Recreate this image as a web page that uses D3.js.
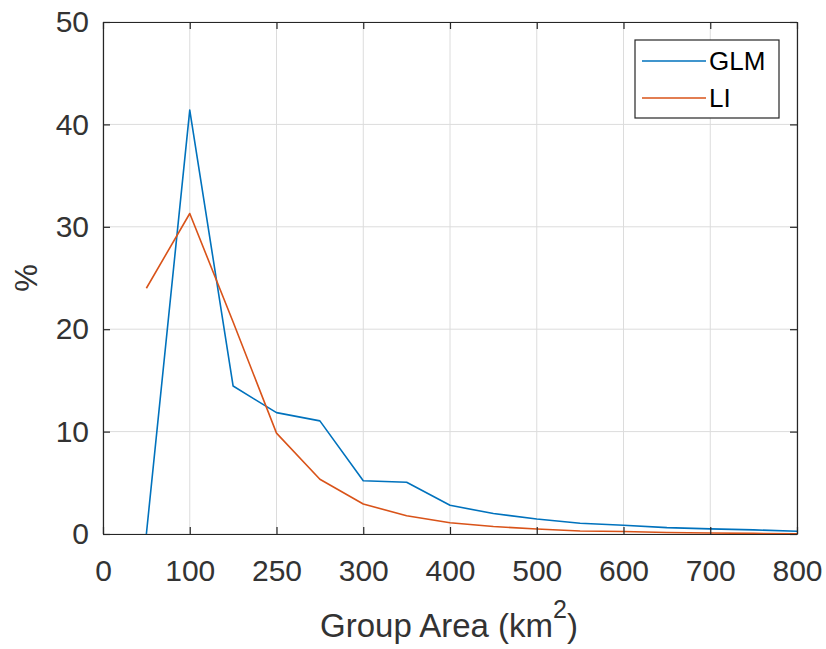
<!DOCTYPE html>
<html><head><meta charset="utf-8">
<script src="https://cdn.jsdelivr.net/npm/d3@7"></script>
<style>body{margin:0;background:#fff}svg{display:block}text{font-family:"Liberation Sans",Arial,sans-serif}</style>
</head><body>
<svg id="c" width="826" height="649"></svg>
<script>
const xValues = [50,100,150,200,250,300,350,400,450,500,550,600,650,700,750,800];
const glm = [0,41.4,14.45,11.85,11.05,5.2,5.05,2.8,2.0,1.47,1.05,0.85,0.62,0.5,0.4,0.27];
const li = [24.0,31.3,20.7,9.85,5.35,2.93,1.78,1.1,0.73,0.49,0.3,0.24,0.15,0.1,0.06,0.03];
const xTickValues = [0,100,200,300,400,500,600,700,800];
const xTickLabels = ["0","100","250","300","400","500","600","700","800"];
const yTickValues = [0,10,20,30,40,50];
const seriesNames = ["GLM","LI"];
const colors = ["#0072BD","#D95319"];

const svg = d3.select("#c");
const L=103, R=797, T=22, B=534;
const x = d3.scaleLinear().domain([0,800]).range([L,R]);
const y = d3.scaleLinear().domain([0,50]).range([B,T]);

// grid
const g = svg.append("g");
g.selectAll(".gx").data(xTickValues).enter().append("line")
  .attr("x1",d=>x(d)).attr("x2",d=>x(d)).attr("y1",T).attr("y2",B)
  .attr("stroke","#dcdcdc").attr("stroke-width",1);
g.selectAll(".gy").data(yTickValues).enter().append("line")
  .attr("y1",d=>y(d)).attr("y2",d=>y(d)).attr("x1",L).attr("x2",R)
  .attr("stroke","#dcdcdc").attr("stroke-width",1);

// lines
const line = d3.line().x((d,i)=>x(xValues[i])).y(d=>y(d));
[glm,li].forEach((s,k)=>{
  svg.append("path").datum(s).attr("d",line).attr("fill","none")
    .attr("stroke",colors[k]).attr("stroke-width",1.6).attr("stroke-linejoin","round");
});

// axes
const axCol="#262626";
const xb = svg.append("g").attr("transform",`translate(0,${B})`)
  .call(d3.axisBottom(x).tickValues(xTickValues).tickFormat((d,i)=>xTickLabels[i]).tickSizeInner(-7).tickSizeOuter(0).tickPadding(26));
const xt = svg.append("g").attr("transform",`translate(0,${T})`)
  .call(d3.axisTop(x).tickValues(xTickValues).tickFormat("").tickSizeInner(-7).tickSizeOuter(0));
const yl = svg.append("g").attr("transform",`translate(${L},0)`)
  .call(d3.axisLeft(y).tickValues(yTickValues).tickSizeInner(-7).tickSizeOuter(0).tickPadding(14));
const yr = svg.append("g").attr("transform",`translate(${R},0)`)
  .call(d3.axisRight(y).tickValues(yTickValues).tickFormat("").tickSizeInner(-7).tickSizeOuter(0));
[xb,xt,yl,yr].forEach(a=>{
  a.selectAll("path").attr("stroke",axCol).attr("stroke-width",1.2);
  a.selectAll("line").attr("stroke",axCol).attr("stroke-width",1.2);
  a.selectAll("text").attr("fill","#333").style("font-size","30px").style("font-family",'"Liberation Sans",Arial,sans-serif');
});
xb.selectAll("text").attr("dy","0.71em");

// labels
svg.append("text").attr("x",449).attr("y",637).attr("text-anchor","middle")
  .attr("fill","#333").style("font-size","33px")
  .html('Group Area (km<tspan dy="-19" font-size="25px">2</tspan><tspan dy="19">)</tspan>');
svg.append("text").attr("transform",`translate(37,${(T+B)/2}) rotate(-90)`).attr("text-anchor","middle")
  .attr("fill","#333").style("font-size","31px").text("%");

// legend
const lg = svg.append("g");
lg.append("rect").attr("x",635).attr("y",40).attr("width",144).attr("height",78)
  .attr("fill","#fff").attr("stroke",axCol).attr("stroke-width",1.2);
seriesNames.forEach((n,k)=>{
  const yy = 61 + k*37;
  lg.append("line").attr("x1",642).attr("x2",706).attr("y1",yy).attr("y2",yy)
    .attr("stroke",colors[k]).attr("stroke-width",1.6);
  lg.append("text").attr("x",709).attr("y",yy).attr("dy","0.36em").attr("fill","#000")
    .style("font-size","26px").text(n);
});
</script>
</body></html>
